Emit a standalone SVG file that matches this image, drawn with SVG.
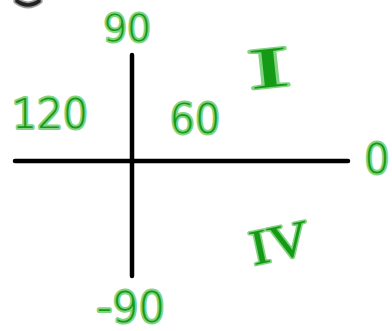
<svg xmlns="http://www.w3.org/2000/svg" width="392" height="331" viewBox="0 0 392 331">
<style>
.ax{stroke:#000;stroke-width:4.5;stroke-linecap:round;fill:none}
.lb{fill:#149a14;stroke:#6ccb6c;stroke-opacity:0.85;stroke-width:4;stroke-linejoin:round;paint-order:stroke;font-family:"DejaVu Sans","Liberation Sans",Arial,sans-serif;font-weight:200}
.rm{font-family:"Liberation Serif","Times New Roman",serif;font-weight:normal;stroke-width:3}
</style>
<rect width="392" height="331" fill="#fff"/>
<path d="M17,1 Q28,9 39,1" fill="none" stroke="#999" stroke-width="7" stroke-linecap="round"/>
<path d="M17,1 Q28,9 39,1" fill="none" stroke="#222" stroke-width="3.5" stroke-linecap="round"/>
<g id="axes">
<line class="ax" x1="132" y1="55" x2="132" y2="276"/>
<line class="ax" x1="15" y1="161" x2="348" y2="161"/>
</g>
<g id="labels">
<text id="t90" class="lb" x="127" y="41" font-size="38" text-anchor="middle">90</text>
<text id="t120" class="lb" x="50" y="128" font-size="40" text-anchor="middle">120</text>
<text id="t60" class="lb" x="195" y="133" font-size="40" text-anchor="middle">60</text>
<text id="tI" class="lb rm" x="0" y="0" font-size="58" text-anchor="middle" textLength="42" lengthAdjust="spacingAndGlyphs" transform="translate(271,87) rotate(-6)">I</text>
<text id="tIV" class="lb rm" x="0" y="0" font-size="50" text-anchor="middle" textLength="60" lengthAdjust="spacingAndGlyphs" transform="translate(283,259) rotate(-12)">IV</text>
<text id="tm90" class="lb" x="131" y="322" font-size="42" text-anchor="middle">-90</text>
<text id="t0" class="lb" x="377" y="173" font-size="40" text-anchor="middle">0</text>
</g>
</svg>
